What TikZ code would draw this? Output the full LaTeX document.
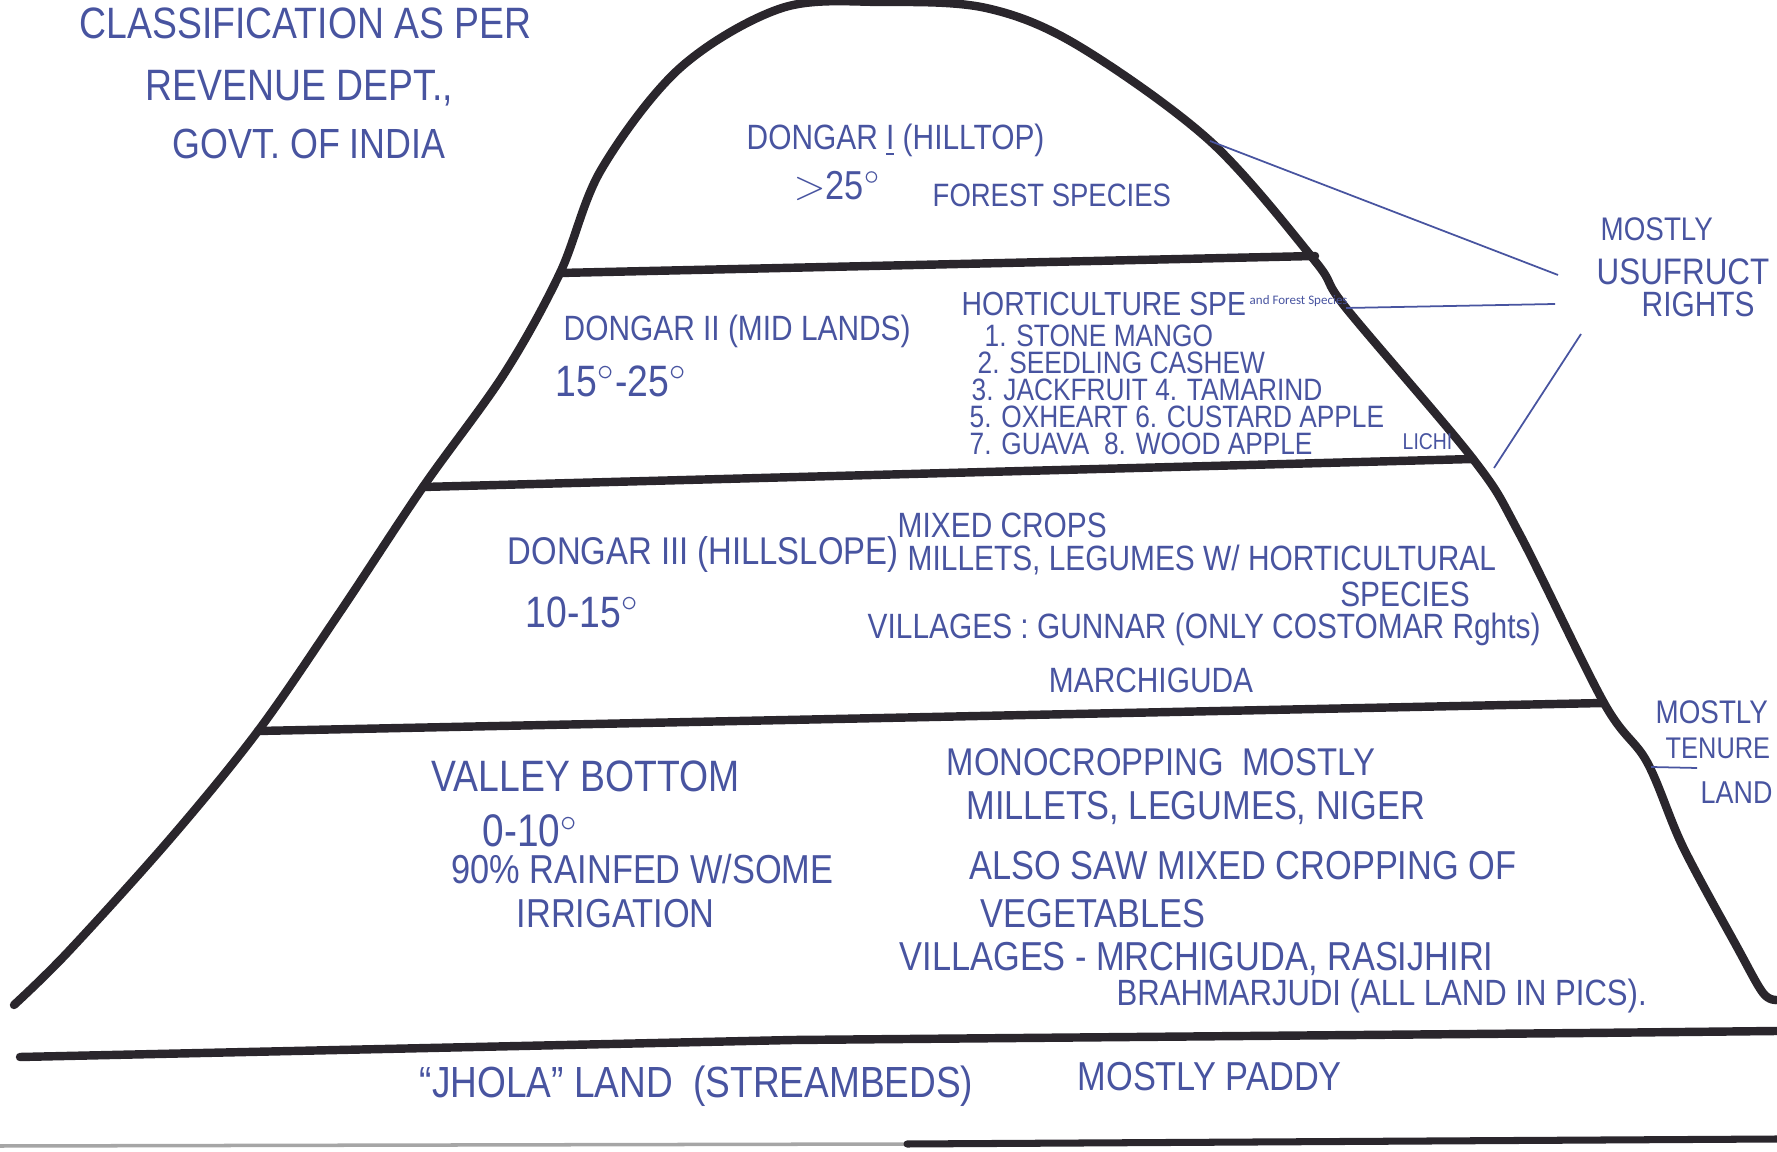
\documentclass[tikz,border=0pt]{standalone}
\usepackage{fontspec}
\setmainfont{Liberation Sans}[FakeStretch=0.85]
\newfontfamily\typedfont{Carlito}
\usepackage{tikz}
\definecolor{ink}{RGB}{72,84,160}
\definecolor{marker}{RGB}{42,38,44}
\tikzset{ridge/.style={line width=2.4pt,marker,line cap=round,line join=round}}
\tikzset{pen/.style={ink,font=\fontsize{10}{12}\selectfont,inner sep=0pt,anchor=west}}
\tikzset{smallpen/.style={pen,font=\fontsize{8.8}{10}\selectfont}}
\tikzset{bigpen/.style={pen,font=\fontsize{11.5}{13}\selectfont}}
\tikzset{lead/.style={ink,line width=0.5pt}}

\begin{document}
\begin{tikzpicture}[x=0.1mm,y=-0.1mm]
  \useasboundingbox (0,0) rectangle (1777,1152);
  % draw the hill (outline)
  \draw[ridge] plot[smooth,tension=0.55] coordinates {(14,1005) (68,952) (170,839) (258,731)
    (340,612) (423,487) (504,374) (560,273) (601,170) (680,68) (782,8) (884,2) (986,8)
    (1077,45) (1210,141) (1315,261) (1346,308) (1473,459) (1519,533) (1604,703)
    (1647,762) (1683,847) (1737,947) (1763,993) (1777,1000)};
  % points on the slope
  \coordinate (hillA) at (1210,141);
  \coordinate (hillB) at (1346,308);
  \coordinate (hillC) at (1494,468);
  \coordinate (hillD) at (1651,767);
  % draw the terraces
  \coordinate (t1l) at (560,273);  \coordinate (t1r) at (1315,256);
  \coordinate (t2l) at (423,487);  \coordinate (t2r) at (1473,459);
  \coordinate (t3l) at (258,731);  \coordinate (t3r) at (1604,703);
  \draw[ridge] (t1l) -- (t1r);
  \draw[ridge] (t2l) -- (t2r);
  \draw[ridge] (t3l) -- (t3r);
  % ground and stream bed
  \draw[ridge] (20,1057) -- (793,1040) -- (1587,1033) -- (1777,1031);
  \draw[line width=1pt,gray!70] (0,1146) -- (907,1144);
  \draw[ridge,line width=2pt] (907,1144) -- (1777,1139);

  % title
  \node[pen,font=\fontsize{12.5}{14}\selectfont] (title1) at (79,23) {CLASSIFICATION AS PER};
  \node[pen,font=\fontsize{12.5}{14}\selectfont] (title2) at (145,88) {REVENUE DEPT.,};
  \node[pen,font=\fontsize{12}{14}\selectfont] (title3) at (172,144) {GOVT. OF INDIA};

  % dongar I
  \node[pen] (d1name) at (746,140) {DONGAR \underline{I} (HILLTOP)};
  \node[pen,font=\fontsize{11.5}{14}\selectfont] (d1slope) at (793,186) {$>$25$^{\circ}$};
  \node[pen,font=\fontsize{9.2}{11}\selectfont] (d1crop) at (932,195) {FOREST SPECIES};

  % dongar II
  \node[pen] (d2name) at (563,331) {DONGAR II (MID LANDS)};
  \node[pen,font=\fontsize{12.5}{14}\selectfont] (d2slope) at (555,381) {15$^{\circ}$-25$^{\circ}$};
  \node[pen,font=\fontsize{9.5}{11}\selectfont] (d2crop) at (961,304) {HORTICULTURE SPE};
  \node[pen,font=\typedfont\fontsize{3.7}{5}\selectfont] (d2extra) at (1249,301) {and Forest Species};
  \node[smallpen] (item1) at (984,336) {1. STONE MANGO};
  \node[smallpen] (item2) at (977,363) {2. SEEDLING CASHEW};
  \node[smallpen] (item3) at (971,390) {3. JACKFRUIT 4. TAMARIND};
  \node[smallpen] (item5) at (969,417) {5. OXHEART 6. CUSTARD APPLE};
  \node[smallpen] (item7) at (969,444) {7. GUAVA \ 8. WOOD APPLE};
  \node[pen,font=\fontsize{6.5}{8}\selectfont] (item9) at (1402,442) {LICHI};

  % dongar III
  \node[pen,font=\fontsize{11}{13}\selectfont] (d3name) at (507,555) {DONGAR III (HILLSLOPE)};
  \node[pen] (d3mix) at (897,525) {MIXED CROPS};
  \node[pen,font=\fontsize{12.5}{14}\selectfont] (d3slope) at (525,612) {10-15$^{\circ}$};
  \node[pen] (d3crop) at (907,560) {MILLETS, LEGUMES W/ HORTICULTURAL};
  \node[pen,anchor=center] (d3crop2) at (1405,594) {SPECIES};
  \node[pen] (d3vill) at (867,629) {VILLAGES : GUNNAR (ONLY COSTOMAR Rghts)};
  \node[pen,anchor=center] (d3vill2) at (1151,680) {MARCHIGUDA};

  % valley bottom
  \node[bigpen,font=\fontsize{12.5}{14}\selectfont] (vbname) at (431,776) {VALLEY BOTTOM};
  \node[bigpen,font=\fontsize{13}{14}\selectfont] (vbslope) at (482,831) {0-10$^{\circ}$};
  \node[bigpen] (vbwater) at (451,869) {90\% RAINFED W/SOME};
  \node[bigpen] (vbwater2) at (516,914) {IRRIGATION};
  \node[bigpen,font=\fontsize{11}{13}\selectfont] (vbcrop1) at (946,762) {MONOCROPPING \ MOSTLY};
  \node[bigpen] (vbcrop2) at (966,808) {MILLETS, LEGUMES, NIGER};
  \node[bigpen] (vbcrop3) at (969,866) {ALSO SAW MIXED CROPPING OF};
  \node[bigpen] (vbcrop4) at (980,914) {VEGETABLES};
  \node[bigpen,font=\fontsize{11.5}{14}\selectfont] (vbvill1) at (899,959) {VILLAGES - MRCHIGUDA, RASIJHIRI};
  \node[pen,font=\fontsize{10.4}{12}\selectfont] (vbvill2) at (1116,996) {BRAHMARJUDI (ALL LAND IN PICS).};

  % jhola land
  \node[bigpen,font=\fontsize{12.4}{14}\selectfont] (jhname) at (419,1086) {``JHOLA'' LAND \ (STREAMBEDS)};
  \node[bigpen] (jhcrop) at (1077,1077) {MOSTLY PADDY};

  % rights
  \node[pen,font=\fontsize{9.3}{11}\selectfont] (right1) at (1600,229) {MOSTLY};
  \node[pen,font=\fontsize{10.5}{12}\selectfont] (right2) at (1596,272) {USUFRUCT};
  \node[pen] (right3) at (1641,304) {RIGHTS};
  \node[pen,font=\fontsize{9.3}{11}\selectfont] (tenure1) at (1655,712) {MOSTLY};
  \node[pen,font=\fontsize{8.5}{10}\selectfont] (tenure2) at (1665,748) {TENURE};
  \node[pen,font=\fontsize{9}{10}\selectfont] (tenure3) at (1700,793) {LAND};
  \coordinate (usuA) at (1558,275);
  \coordinate (usuB) at (1555,304);
  \coordinate (usuC) at (1581,334);
  \coordinate (tenA) at (1697,768);
  \draw[lead] (hillA) -- (usuA);
  \draw[lead] (hillB) -- (usuB);
  \draw[lead] (hillC) -- (usuC);
  \draw[lead] (hillD) -- (tenA);
\end{tikzpicture}
\end{document}
